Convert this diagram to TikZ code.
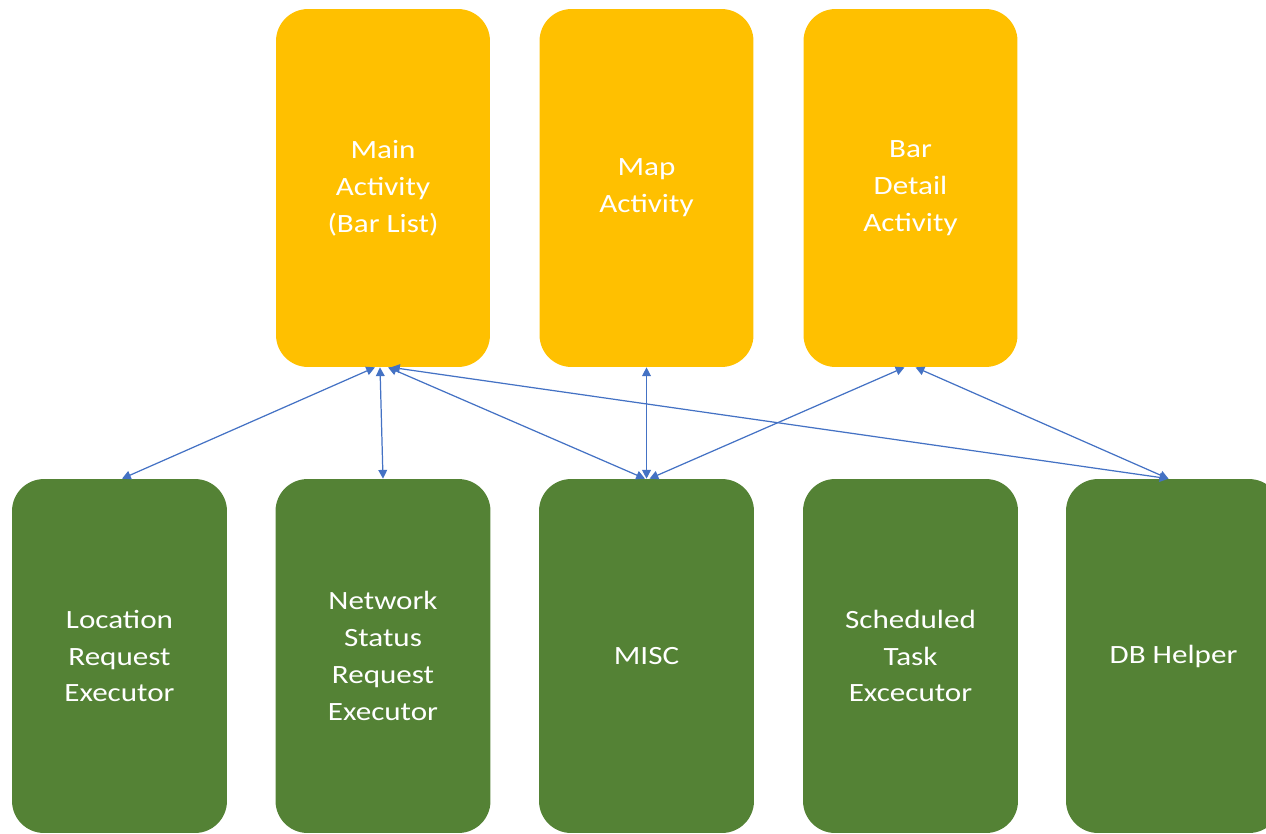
\documentclass[tikz,border=0pt]{standalone}
\usepackage{fontspec}
\setmainfont{Carlito}[FakeStretch=1.18]
\usetikzlibrary{arrows.meta}
\definecolor{actyellow}{HTML}{FFC000}
\definecolor{helpgreen}{HTML}{548235}
\definecolor{linkblue}{HTML}{4472C4}

\begin{document}
\begin{tikzpicture}[x=0.02cm,y=-0.02cm,
  actbox/.style={fill=actyellow,rounded corners=0.64cm,minimum width=4.28cm,minimum height=7.16cm,
    text=white,align=center,font=\fontsize{15}{21}\selectfont,inner sep=0pt},
  helpbox/.style={fill=helpgreen,rounded corners=0.64cm,minimum width=4.3cm,minimum height=7.08cm,
    text=white,align=center,font=\fontsize{15}{21}\selectfont,inner sep=0pt},
  link/.style={draw=linkblue,line width=0.7pt,{Triangle[length=5pt,width=5pt]}-{Triangle[length=5pt,width=5pt]}}]
\useasboundingbox (0,0) rectangle (1266,833) ;
\clip (0,0) rectangle (1266,833) ;

\node[actbox] (main) at (383,188) {Main\\Activity\\(Bar List)} ;
\node[actbox] (map) at (646.5,188) {Map\\Activity} ;
\node[actbox] (detail) at (910.5,188) {Bar\\Detail\\Activity} ;

\node[helpbox] (location) at (119.5,656) {Location\\Request\\Executor} ;
\node[helpbox] (network) at (383,656) {Network\\Status\\Request\\Executor} ;
\node[helpbox] (misc) at (646.5,656) {MISC} ;
\node[helpbox] (task) at (910.5,656) {Scheduled\\Task\\Excecutor} ;
\node[helpbox] (dbhelper) at (1173.5,656) {DB Helper} ;

\draw[link] ([xshift=-0.16cm]main.south) -- ([xshift=0.05cm]location.north) ;
\draw[link] ([xshift=-0.06cm]main.south) -- (network.north) ;
\draw[link] ([xshift=0.1cm]main.south) -- ([xshift=-0.03cm]misc.north) ;
\draw[link] ([xshift=0.16cm]main.south) -- ([xshift=-0.1cm]dbhelper.north) ;
\draw[link] (map.south) -- (misc.north) ;
\draw[link] ([xshift=-0.12cm]detail.south) -- ([xshift=0.06cm]misc.north) ;
\draw[link] ([xshift=0.1cm]detail.south) -- ([xshift=-0.1cm]dbhelper.north) ;

\end{tikzpicture}
\end{document}
